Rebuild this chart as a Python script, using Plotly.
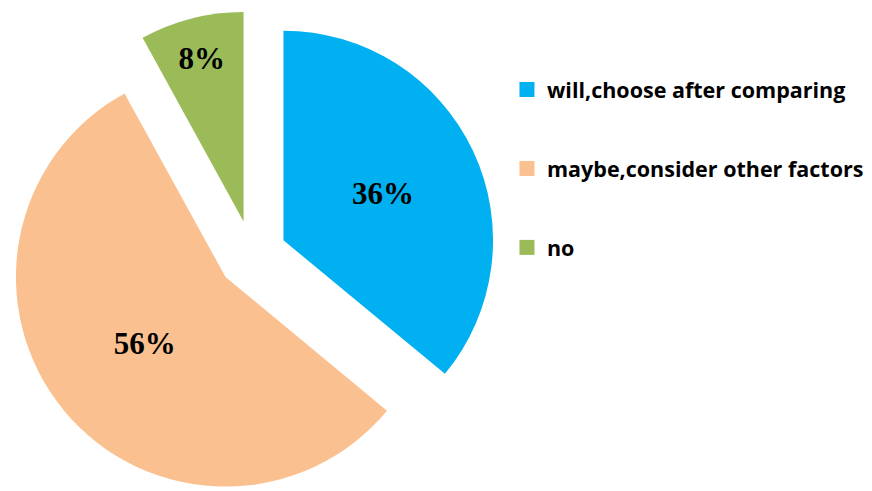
import plotly.graph_objects as go

categories = ["will,choose after comparing", "maybe,consider other factors", "no"]
values = [36, 56, 8]
colors = ["#00B0F0", "#FAC090", "#9BBB59"]

fig = go.Figure()
fig.add_trace(go.Pie(
    labels=categories, values=values, sort=False, direction="clockwise", rotation=0,
    marker=dict(colors=colors, line=dict(width=0)),
    pull=[0.165, 0.165, 0.165],
    textinfo="percent", texttemplate="%{percent:.0%}",
    textposition="inside", insidetextorientation="horizontal",
    textfont=dict(family="Liberation Serif", size=31, color="black", weight="bold"),
    domain=dict(x=[0, 0.56], y=[0, 1]),
    showlegend=False,
))
for c, col in zip(categories, colors):
    fig.add_trace(go.Scatter(
        x=[None], y=[None], mode="markers", name=c, legendgroup=c,
        marker=dict(symbol="square", size=15, color=col),
    ))

fig.update_layout(
    width=872, height=494,
    margin=dict(l=0, r=0, t=0, b=0),
    paper_bgcolor="white", plot_bgcolor="white",
    xaxis=dict(visible=False), yaxis=dict(visible=False),
    legend=dict(x=0.5722, y=0.8765, xanchor="left", yanchor="top",
                font=dict(family="Open Sans", size=21.5, color="black", weight="bold"),
                tracegroupgap=48, itemsizing="trace"),
)
fig.write_html("out.html")
